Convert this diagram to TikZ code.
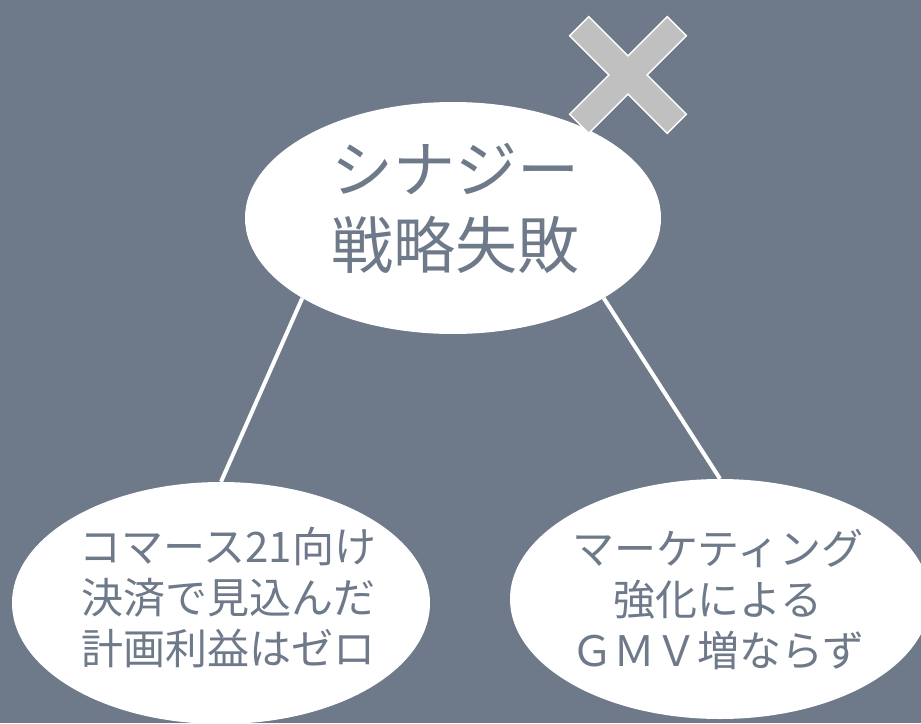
\documentclass[tikz,border=0pt]{standalone}
\usepackage{fontspec}
\newfontfamily\cjk{Noto Sans CJK JP}
\usetikzlibrary{shapes.geometric}
\definecolor{bg}{RGB}{110,121,137}
\definecolor{xgray}{RGB}{192,192,192}
\begin{document}
\begin{tikzpicture}[x=1pt,y=-1pt,
  bubble/.style={ellipse, fill=white, draw=none, inner sep=0pt},
  conn/.style={draw=white, line width=4pt},
  txt/.style={text=bg, align=center, inner sep=0pt},
  bigtxt/.style={txt, font=\cjk\fontsize{62}{76}\selectfont},
  smalltxt/.style={txt, font=\cjk\fontsize{42}{51}\selectfont},
  xmark/.style={fill=xgray, draw=white, line width=1.5pt, line join=miter}
]
\fill[bg] (0,0) rectangle (921,723);
\useasboundingbox (0,0) rectangle (921,723);

\node[bubble, minimum width=416pt, minimum height=232pt] (top) at (453,218) {};
\node[bubble, minimum width=418pt, minimum height=242pt] (left) at (221,603) {};
\node[bubble, minimum width=420pt, minimum height=240pt] (right) at (720,599) {};

\draw[conn] (top.208) -- (left.north);
\draw[conn] (top.332) -- (right.north);

\node[bigtxt] (toptext) at (455,208) {シナジー\\戦略失敗};
\node[smalltxt] (lefttext) at (228,598) {コマース21向け\\決済で見込んだ\\計画利益はゼロ};
\node[smalltxt] (righttext) at (718,600) {マーケティング\\強化による\\ＧＭＶ増ならず};

\begin{scope}[shift={(628,75)}, rotate=45]
  \draw[xmark] (-13.5,-69) -- (13.5,-69) -- (13.5,-13.5) -- (69,-13.5) -- (69,13.5)
    -- (13.5,13.5) -- (13.5,69) -- (-13.5,69) -- (-13.5,13.5) -- (-69,13.5)
    -- (-69,-13.5) -- (-13.5,-13.5) -- cycle;
\end{scope}
\end{tikzpicture}
\end{document}
